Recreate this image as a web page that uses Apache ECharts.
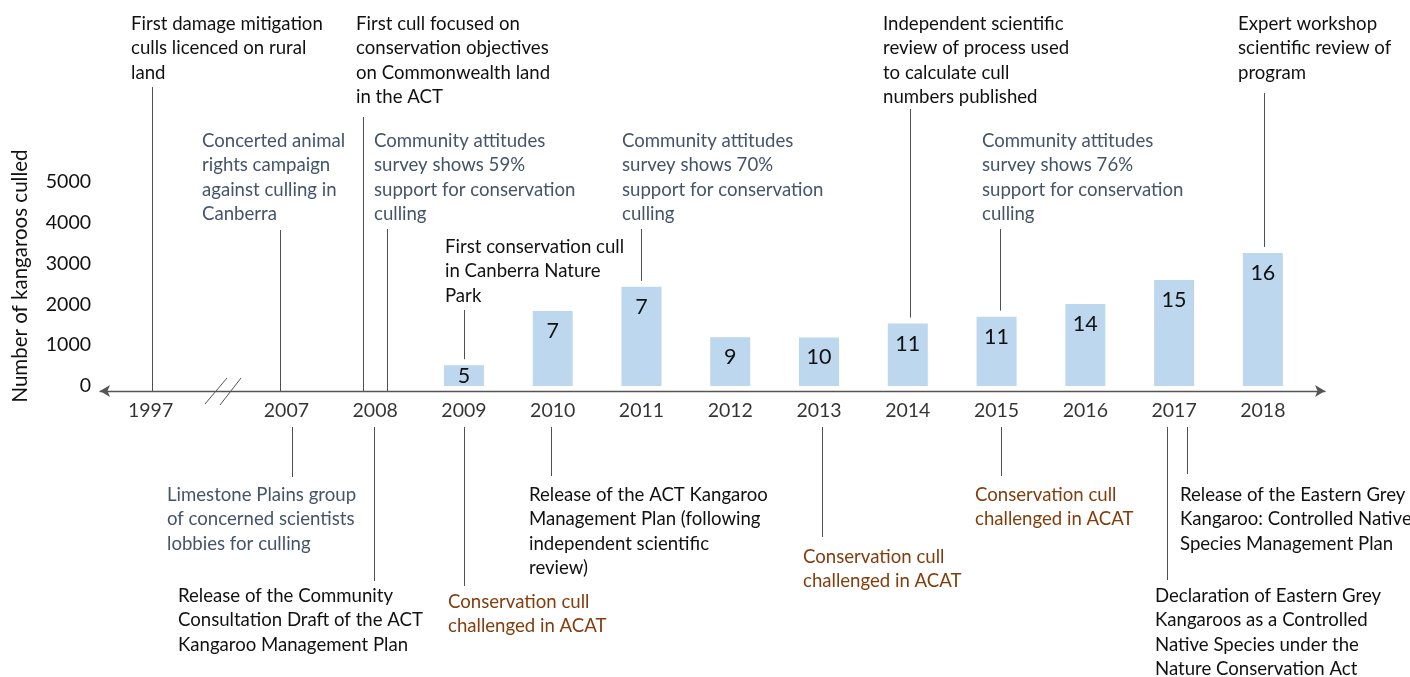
<!DOCTYPE html>
<html>
<head>
<meta charset="utf-8">
<title>Kangaroo culling in the ACT</title>
<script src="https://cdn.jsdelivr.net/npm/echarts@6/dist/echarts.min.js"></script>
<style>
  html, body { margin: 0; padding: 0; background: #fff; }
  #chart { width: 1410px; height: 677px; }
</style>
</head>
<body>
<div id="chart"></div>
<script>
'use strict';

// timeline years (axis is broken between 1997 and 2007)
var years = ['1997', '2007', '2008', '2009', '2010', '2011', '2012', '2013', '2014', '2015', '2016', '2017', '2018'];

// kangaroos culled each year
var cullYears = ['2009', '2010', '2011', '2012', '2013', '2014', '2015', '2016', '2017', '2018'];
var culled = [510, 1840, 2430, 1195, 1190, 1530, 1700, 2010, 2600, 3260];
// number printed inside each bar
var barNumbers = ['5', '7', '7', '9', '10', '11', '11', '14', '15', '16'];

var yTicks = [0, 1000, 2000, 3000, 4000, 5000];

// events above the axis
var aboveYears = ['1997', '2007', '2008', '2008', '2009', '2011', '2014', '2015', '2018'];
var aboveTexts = [
  'First damage mitigation\nculls licenced on rural\nland',
  'Concerted animal\nrights campaign\nagainst culling in\nCanberra',
  'First cull focused on\nconservation objectives\non Commonwealth land\nin the ACT',
  'Community attitudes\nsurvey shows 59%\nsupport for conservation\nculling',
  'First conservation cull\nin Canberra Nature\nPark',
  'Community attitudes\nsurvey shows 70%\nsupport for conservation\nculling',
  'Independent scientific\nreview of process used\nto calculate cull\nnumbers published',
  'Community attitudes\nsurvey shows 76%\nsupport for conservation\nculling',
  'Expert workshop\nscientific review of\nprogram'
];
var aboveKinds = ['cull', 'campaign', 'cull', 'campaign', 'cull', 'campaign', 'cull', 'campaign', 'cull'];

// events below the axis
var belowYears = ['2007', '2008', '2009', '2010', '2013', '2015', '2017', '2017'];
var belowTexts = [
  'Limestone Plains group\nof concerned scientists\nlobbies for culling',
  'Release of the Community\nConsultation Draft of the ACT\nKangaroo Management Plan',
  'Conservation cull\nchallenged in ACAT',
  'Release of the ACT Kangaroo\nManagement Plan (following\nindependent scientific\nreview)',
  'Conservation cull\nchallenged in ACAT',
  'Conservation cull\nchallenged in ACAT',
  'Release of the Eastern Grey\nKangaroo: Controlled Native\nSpecies Management Plan',
  'Declaration of Eastern Grey\nKangaroos as a Controlled\nNative Species under the\nNature Conservation Act'
];
var belowKinds = ['campaign', 'cull', 'court', 'cull', 'court', 'court', 'cull', 'cull'];

// layout of the notes: [text left, first line centre, leader dx, leader top]
var abovePlaces = [
  [131, 24, 1, 87], [202, 141, -6, 230], [356, 24, -12, 117], [374, 141, 12, 229],
  [445, 247, 0, 310], [622, 141, 0, 229], [883, 24, 2, 109], [982, 141, 3, 229], [1238, 24, 1, 93]
];
// [text left, first line centre, leader dx, leader bottom]
var belowPlaces = [
  [167, 495, 6, 477], [178, 596, -1, 581], [448, 602, 0, 586], [529, 495, -2, 476],
  [803, 557, 3, 537], [975, 495, 4, 476], [1180, 495, 13, 474], [1155, 596, -7, 580]
];

var colors = { cull: '#111111', campaign: '#44546a', court: '#843c0c' };
var FONT = 'Lato, "Noto Sans", sans-serif';

// 1997 sits one and a half steps before 2007, past the axis break
function slot(year) {
  return year === '1997' ? -1.53 : Number(year) - 2007;
}

var chart = echarts.init(document.getElementById('chart'));

chart.setOption({
  animation: false,
  grid: { left: 100, right: 85, top: 182, bottom: 291 },
  xAxis: {
    type: 'value',
    min: -2.1,
    max: 11.7,
    offset: 5,
    axisLine: {
      onZero: false,
      symbol: ['arrow', 'arrow'],
      symbolSize: [9, 10],
      lineStyle: { color: '#555', width: 1.3 }
    },
    axisTick: { show: false },
    axisLabel: { show: false },
    splitLine: { show: false }
  },
  yAxis: {
    type: 'value',
    min: yTicks[0],
    max: yTicks[yTicks.length - 1],
    interval: 1000,
    axisLine: { show: false },
    axisTick: { show: false },
    splitLine: { show: false },
    axisLabel: {
      margin: 9,
      fontSize: 19.5,
      color: '#111',
      fontFamily: FONT,
      formatter: function (v) { return String(v); }
    }
  },
  series: [
    {
      type: 'bar',
      barWidth: 40,
      itemStyle: { color: '#bdd7ee' },
      label: {
        show: true,
        position: 'insideTop',
        distance: 9,
        fontSize: 21.5,
        color: '#111',
        fontFamily: FONT,
        formatter: function (p) { return barNumbers[p.dataIndex]; }
      },
      data: culled.map(function (v, i) {
        var item = { value: [slot(cullYears[i]), v] };
        if (i === 0) item.label = { position: 'inside' };
        return item;
      })
    },
    {
      type: 'scatter',
      symbolSize: 1,
      silent: true,
      itemStyle: { color: 'rgba(0,0,0,0)' },
      label: {
        show: true,
        position: 'bottom',
        distance: 14,
        fontSize: 19.5,
        color: '#000',
        fontFamily: FONT,
        formatter: function (p) { return years[p.dataIndex]; }
      },
      data: years.map(function (y) { return [slot(y), 0]; })
    }
  ]
});

function px(x, y) {
  return chart.convertToPixel({ gridIndex: 0 }, [x, y]);
}

var axisY = px(0, 0)[1] + 5;
var lineTop = axisY + 36;

function note(x, y, text, color) {
  return {
    type: 'text',
    x: x,
    y: y - 12.2,
    silent: true,
    style: {
      text: text,
      fill: color,
      font: '18.6px ' + FONT,
      lineHeight: 24.4,
      align: 'left',
      verticalAlign: 'top'
    }
  };
}

function leader(x, y1, y2) {
  return {
    type: 'line',
    silent: true,
    shape: { x1: x, y1: y1, x2: x, y2: y2 },
    style: { stroke: '#505050', lineWidth: 1 }
  };
}

var graphics = [];

aboveYears.forEach(function (year, i) {
  var pl = abovePlaces[i];
  var x = Math.round(px(slot(year), 0)[0] + pl[2]) + 0.5;
  var k = cullYears.indexOf(year);
  var end = k >= 0 ? px(0, culled[k])[1] - 6 : axisY;
  graphics.push(note(pl[0], pl[1], aboveTexts[i], colors[aboveKinds[i]]));
  graphics.push(leader(x, pl[3], end));
});

belowYears.forEach(function (year, i) {
  var pl = belowPlaces[i];
  var x = Math.round(px(slot(year), 0)[0] + pl[2]) + 0.5;
  graphics.push(note(pl[0], pl[1], belowTexts[i], colors[belowKinds[i]]));
  graphics.push(leader(x, lineTop, pl[3]));
});

// axis break marks
graphics.push({
  type: 'line', silent: true,
  shape: { x1: 205, y1: 404, x2: 227, y2: 378 },
  style: { stroke: '#555', lineWidth: 1 }
});
graphics.push({
  type: 'line', silent: true,
  shape: { x1: 220, y1: 405, x2: 241, y2: 378 },
  style: { stroke: '#555', lineWidth: 1 }
});

// y axis title
graphics.push({
  type: 'text',
  x: 20,
  y: 276,
  rotation: Math.PI / 2,
  silent: true,
  style: {
    text: 'Number of kangaroos culled',
    fill: '#111',
    font: '20.5px ' + FONT,
    align: 'center',
    verticalAlign: 'middle'
  }
});

chart.setOption({ graphic: graphics });
</script>
</body>
</html>
